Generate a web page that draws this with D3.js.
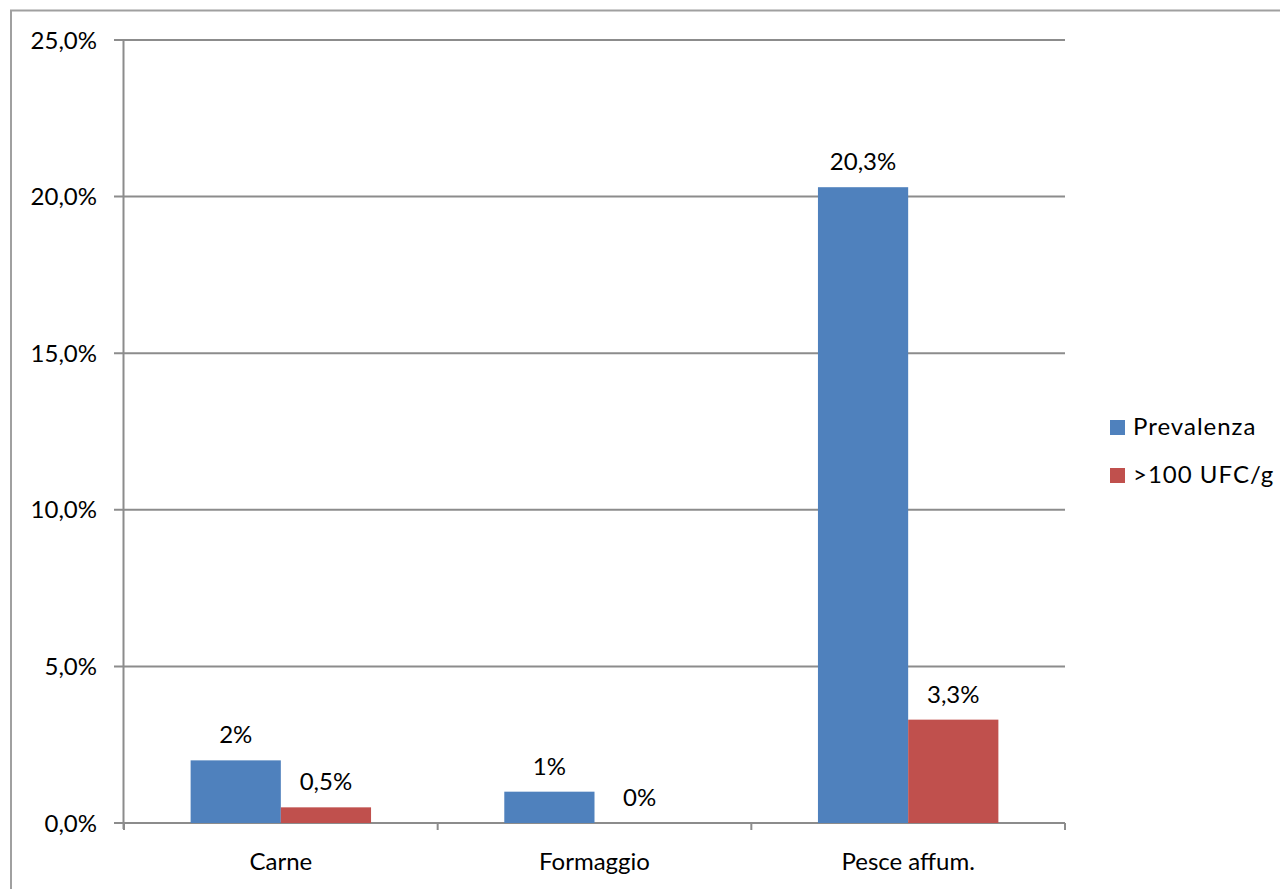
<!DOCTYPE html>
<html>
<head>
<meta charset="utf-8">
<script src="https://cdn.jsdelivr.net/npm/d3@7"></script>
<style>
  html, body { margin: 0; padding: 0; background: #fff; }
  svg { display: block; font-family: Lato, "Open Sans", sans-serif; }
</style>
</head>
<body>
<svg id="chart" width="1280" height="889"></svg>
<script>
// Categories and series
const categories = ["Carne", "Formaggio", "Pesce affum."];
const seriesNames = ["Prevalenza", ">100 UFC/g"];
const prevalenza = [2, 1, 20.3];
const ufc = [0.5, 0, 3.3];
const prevalenzaLabels = ["2%", "1%", "20,3%"];
const ufcLabels = ["0,5%", "0%", "3,3%"];
const yTicks = [0, 5, 10, 15, 20, 25];
const colors = ["#4F81BD", "#C0504D"];

const svg = d3.select("#chart");
const axisColor = "#8c8c8c";
const fontSize = 24;

// outer frame of the chart area
svg.append("path")
  .attr("d", "M11,889 V10.5 H1280")
  .attr("fill", "none")
  .attr("stroke", "#a0a0a0")
  .attr("stroke-width", 2);

const plot = { left: 124, right: 1065, top: 40, bottom: 823 };

const x = d3.scaleBand().domain(categories).range([plot.left, plot.right]);
const xInner = d3.scaleBand().domain(seriesNames)
  .range([0, x.bandwidth()]).paddingOuter(0.7385).paddingInner(0);
const y = d3.scaleLinear().domain([0, 25]).range([plot.bottom, plot.top]);

const fmt = v => d3.format(".1f")(v).replace(".", ",") + "%";

// horizontal gridlines
svg.append("g").selectAll("line").data(yTicks).join("line")
  .attr("x1", plot.left - 10).attr("x2", plot.right)
  .attr("y1", d => y(d)).attr("y2", d => y(d))
  .attr("stroke", axisColor).attr("stroke-width", 2);

// y axis line
svg.append("line")
  .attr("x1", plot.left - 0.5).attr("x2", plot.left - 0.5)
  .attr("y1", plot.top).attr("y2", plot.bottom + 6)
  .attr("stroke", axisColor).attr("stroke-width", 2);

// y tick labels
svg.append("g").selectAll("text").data(yTicks).join("text")
  .attr("x", 97).attr("y", d => y(d)).attr("dy", "0.36em")
  .attr("text-anchor", "end")
  .attr("font-size", fontSize).attr("fill", "#000")
  .text(fmt);

// category separators on the x axis
const sepX = categories.map(c => x(c)).concat([plot.right]);
svg.append("g").selectAll("line").data(sepX).join("line")
  .attr("x1", d => d).attr("x2", d => d)
  .attr("y1", plot.bottom).attr("y2", plot.bottom + 7)
  .attr("stroke", axisColor).attr("stroke-width", 2);

// bars
const data = categories.map((c, i) => ({
  cat: c,
  vals: [
    { s: seriesNames[0], v: prevalenza[i], label: prevalenzaLabels[i], color: colors[0] },
    { s: seriesNames[1], v: ufc[i], label: ufcLabels[i], color: colors[1] }
  ]
}));

const groups = svg.append("g").selectAll("g").data(data).join("g")
  .attr("transform", d => `translate(${x(d.cat)},0)`);

groups.selectAll("rect").data(d => d.vals).join("rect")
  .attr("x", d => xInner(d.s))
  .attr("width", xInner.bandwidth())
  .attr("y", d => y(d.v))
  .attr("height", d => y(0) - y(d.v))
  .attr("fill", d => d.color);

groups.selectAll("text").data(d => d.vals).join("text")
  .attr("x", d => xInner(d.s) + xInner.bandwidth() / 2)
  .attr("y", d => y(d.v) - 17)
  .attr("text-anchor", "middle")
  .attr("font-size", fontSize).attr("fill", "#000")
  .text(d => d.label);

// category labels
svg.append("g").selectAll("text").data(categories).join("text")
  .attr("x", d => x(d) + x.bandwidth() / 2)
  .attr("y", 870)
  .attr("text-anchor", "middle")
  .attr("font-size", fontSize).attr("fill", "#000")
  .text(d => d);

// legend
const legend = svg.append("g").selectAll("g").data(seriesNames).join("g")
  .attr("transform", (d, i) => `translate(1110,${420 + i * 48})`);
legend.append("rect")
  .attr("width", 15).attr("height", 15)
  .attr("fill", (d, i) => colors[i]);
legend.append("text")
  .attr("x", 23).attr("y", 15)
  .attr("font-size", fontSize).attr("fill", "#000")
  .attr("letter-spacing", 1)
  .text(d => d);
</script>
</body>
</html>
